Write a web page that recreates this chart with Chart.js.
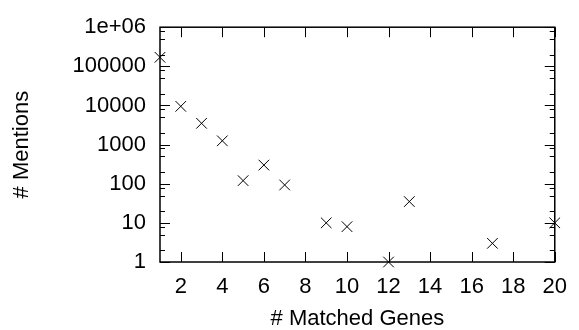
<!DOCTYPE html>
<html>
<head>
<meta charset="utf-8">
<script src="https://cdn.jsdelivr.net/npm/chart.js@4/dist/chart.umd.min.js"></script>
<style>
  body { margin: 0; background: #fff; }
</style>
</head>
<body>
<canvas id="genesChart" width="579" height="330"></canvas>
<script>
// ==================== DATA ====================
const matchedGenes = [1, 2, 3, 4, 5, 6, 7, 9, 10, 12, 13, 17, 20];
const mentions = [170000, 9500, 3500, 1250, 120, 300, 93, 10, 8, 1, 35, 3, 10];
const xTicks = [2, 4, 6, 8, 10, 12, 14, 16, 18, 20];
const yTicks = [1, 10, 100, 1000, 10000, 100000, 1000000];
const yTickLabels = ['1', '10', '100', '1000', '10000', '100000', '1e+06'];
const yMinorSteps = [2, 5, 8];

const FONT = "'Liberation Sans', Arial, sans-serif";

// inward ticks on all four sides + frame, gnuplot style
const frameTicks = {
  id: 'frameTicks',
  beforeDatasetsDraw(chart) {
    const { ctx, chartArea: a, scales: { x, y } } = chart;
    ctx.save();
    ctx.strokeStyle = '#000';
    ctx.lineWidth = 1;
    ctx.beginPath();
    xTicks.forEach(v => {
      const px = Math.round(x.getPixelForValue(v)) + 0.5;
      ctx.moveTo(px, a.bottom); ctx.lineTo(px, a.bottom - 10);
      ctx.moveTo(px, a.top); ctx.lineTo(px, a.top + 10);
    });
    yTicks.forEach((v, i) => {
      const py = Math.round(y.getPixelForValue(v)) + 0.5;
      ctx.moveTo(a.left, py); ctx.lineTo(a.left + 10, py);
      ctx.moveTo(a.right, py); ctx.lineTo(a.right - 10, py);
      if (i < yTicks.length - 1) {
        yMinorSteps.forEach(m => {
          const my = Math.round(y.getPixelForValue(v * m)) + 0.5;
          ctx.moveTo(a.left, my); ctx.lineTo(a.left + 5, my);
          ctx.moveTo(a.right, my); ctx.lineTo(a.right - 5, my);
        });
      }
    });
    ctx.stroke();
    ctx.lineWidth = 1.5;
    ctx.strokeRect(a.left, a.top, a.right - a.left, a.bottom - a.top);
    ctx.restore();
  }
};

new Chart(document.getElementById('genesChart'), {
  type: 'scatter',
  data: {
    datasets: [{
      data: matchedGenes.map((g, i) => ({ x: g, y: mentions[i] })),
      pointStyle: 'crossRot',
      pointRadius: 7.5,
      pointBorderWidth: 1,
      borderColor: '#000',
      backgroundColor: '#000',
      clip: false
    }]
  },
  options: {
    responsive: false,
    animation: false,
    layout: { padding: { left: 0, right: 16, top: 22, bottom: 0 } },
    plugins: { legend: { display: false }, tooltip: { enabled: false } },
    scales: {
      x: {
        type: 'linear',
        min: 1,
        max: 20,
        afterBuildTicks: s => { s.ticks = xTicks.map(v => ({ value: v })); },
        afterFit: s => { s.height = 68; },
        grid: { display: false, drawTicks: false },
        border: { display: false },
        ticks: { color: '#000', padding: 12, maxRotation: 0, font: { family: FONT, size: 22 } },
        title: {
          display: true, text: '# Matched Genes', color: '#000',
          padding: { top: 0, bottom: 0 }, font: { family: FONT, size: 22, lineHeight: 1 }
        }
      },
      y: {
        type: 'logarithmic',
        min: 1,
        max: 1000000,
        afterBuildTicks: s => { s.ticks = yTicks.map(v => ({ value: v })); },
        afterFit: s => { s.width = 160; },
        grid: { display: false, drawTicks: false },
        border: { display: false },
        ticks: {
          color: '#000', padding: 14, font: { family: FONT, size: 22 },
          callback: v => yTickLabels[yTicks.indexOf(v)]
        },
        title: {
          display: true, text: '# Mentions', color: '#000',
          padding: { top: 11, bottom: 0 }, font: { family: FONT, size: 22, lineHeight: 1 }
        }
      }
    }
  },
  plugins: [frameTicks]
});
</script>
</body>
</html>
